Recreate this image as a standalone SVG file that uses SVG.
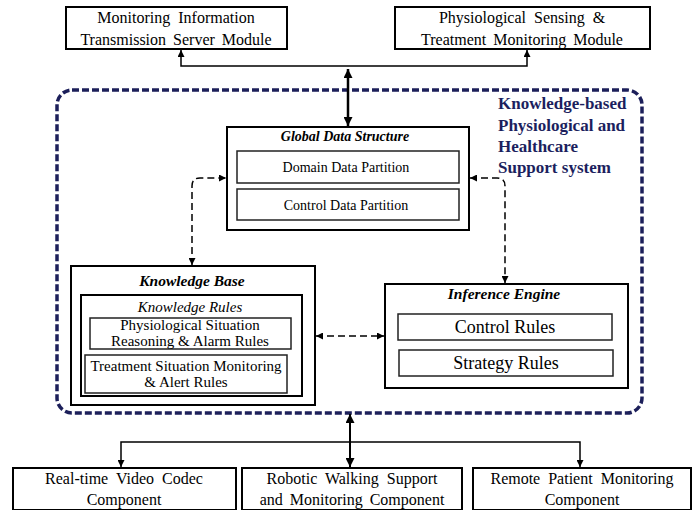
<svg xmlns="http://www.w3.org/2000/svg" width="699" height="510" viewBox="0 0 699 510">
<defs>
<marker id="ah" viewBox="0 0 10 10" refX="10" refY="5" markerWidth="7" markerHeight="7" markerUnits="userSpaceOnUse" orient="auto-start-reverse">
<path d="M0,0 L10,5 L0,10 z" fill="#000"/>
</marker>
<marker id="ahb" viewBox="0 0 10 10" refX="10" refY="5" markerWidth="9" markerHeight="9" markerUnits="userSpaceOnUse" orient="auto-start-reverse">
<path d="M0,0 L10,5 L0,10 z" fill="#000"/>
</marker>
</defs>
<style>
.box{fill:#fff;stroke:#000;stroke-width:2}
.ibox{fill:#fff;stroke:#222;stroke-width:1.5}
.t{font-family:"Liberation Serif","Times New Roman",serif;fill:#000;text-anchor:middle}
.big{font-size:16px}
.cr{font-size:18px}
.sm{font-size:14px}
.sit{font-size:15px}
.ttl{font-size:15.5px;font-weight:bold;font-style:italic}
.kr{font-size:15px;font-style:italic}
.ln{fill:none;stroke:#000;stroke-width:1.5}
.dl{fill:none;stroke:#000;stroke-width:1.5;stroke-dasharray:7 4}
.kt{font-family:"Liberation Serif","Times New Roman",serif;font-size:17px;font-weight:bold;fill:#1c1f5e}
</style>
<rect x="0" y="0" width="699" height="510" fill="#fff"/>

<g id="system">
<rect x="57" y="90" width="585" height="323" rx="15" fill="none" stroke="#1c1f5a" stroke-width="3.5" stroke-dasharray="7 3"/>
<text class="kt" x="498" y="109">Knowledge-based</text>
<text class="kt" x="498" y="131">Physiological and</text>
<text class="kt" x="498" y="152">Healthcare</text>
<text class="kt" x="498" y="173">Support system</text>
</g>

<g id="monitoring-server">
<rect class="box" x="66" y="7" width="221" height="42"/>
<text class="t big" x="176" y="23" word-spacing="4">Monitoring Information</text>
<text class="t big" x="176" y="45" word-spacing="3">Transmission Server Module</text>
</g>

<g id="sensing-module">
<rect class="box" x="395" y="7" width="255" height="42"/>
<text class="t big" x="522" y="23" word-spacing="4">Physiological Sensing &amp;</text>
<text class="t big" x="522" y="45" word-spacing="3">Treatment Monitoring Module</text>
</g>

<g id="global-data">
<rect class="box" x="227" y="127" width="242" height="103"/>
<text class="t ttl" x="345" y="141" style="font-size:14px">Global Data Structure</text>
<rect class="ibox" x="237" y="151" width="222" height="32"/>
<text class="t sm" x="346" y="172">Domain Data Partition</text>
<rect class="ibox" x="237" y="189" width="222" height="31"/>
<text class="t sm" x="346" y="210">Control Data Partition</text>
</g>

<g id="knowledge-base">
<rect class="box" x="71" y="266" width="244" height="139"/>
<text class="t ttl" x="192" y="286">Knowledge Base</text>
<rect x="81" y="295" width="221" height="101" fill="#fff" stroke="#000" stroke-width="2"/>
<text class="t kr" x="190" y="312">Knowledge Rules</text>
<rect class="ibox" x="90" y="318" width="201" height="31"/>
<text class="t sit" x="190" y="330">Physiological Situation</text>
<text class="t sit" x="190" y="346">Reasoning &amp; Alarm Rules</text>
<rect class="ibox" x="85" y="355" width="202" height="38"/>
<text class="t sit" x="186" y="371">Treatment Situation Monitoring</text>
<text class="t sit" x="186" y="387">&amp; Alert Rules</text>
</g>

<g id="inference-engine">
<rect class="box" x="385" y="284" width="243" height="104"/>
<text class="t ttl" x="504" y="299">Inference Engine</text>
<rect class="ibox" x="398" y="314" width="214" height="26"/>
<text class="t cr" x="505" y="333">Control Rules</text>
<rect class="ibox" x="399" y="350" width="214" height="26"/>
<text class="t cr" x="506" y="369">Strategy Rules</text>
</g>

<g id="video-codec">
<rect class="box" x="13" y="468" width="223" height="42"/>
<text class="t big" x="124" y="484" word-spacing="4">Real-time Video Codec</text>
<text class="t big" x="124" y="505">Component</text>
</g>

<g id="robotic-walking">
<rect class="box" x="242" y="468" width="220" height="42"/>
<text class="t big" x="352" y="484" word-spacing="4">Robotic Walking Support</text>
<text class="t big" x="352" y="505" word-spacing="3">and Monitoring Component</text>
</g>

<g id="remote-patient">
<rect class="box" x="473" y="468" width="218" height="42"/>
<text class="t big" x="582" y="484" word-spacing="4">Remote Patient Monitoring</text>
<text class="t big" x="582" y="505">Component</text>
</g>

<g id="connectors">
<path class="ln" d="M181,50 V66 H527 V50" marker-start="url(#ah)" marker-end="url(#ah)"/>
<path d="M348,69 V126" fill="none" stroke="#000" stroke-width="2.5" marker-start="url(#ahb)" marker-end="url(#ahb)"/>
<path class="dl" d="M192,265 V186 Q192,178 200,178 H226" marker-start="url(#ah)" marker-end="url(#ah)"/>
<path class="dl" d="M470,178 H497 Q505,178 505,186 V283" marker-start="url(#ah)" marker-end="url(#ah)"/>
<path class="dl" d="M316,336 H384" marker-start="url(#ah)" marker-end="url(#ah)"/>
<path d="M350,414 V467" fill="none" stroke="#000" stroke-width="2" marker-start="url(#ahb)" marker-end="url(#ahb)"/>
<path class="ln" d="M121,467 V442 H580 V467" marker-start="url(#ah)" marker-end="url(#ah)"/>
</g>
</svg>
